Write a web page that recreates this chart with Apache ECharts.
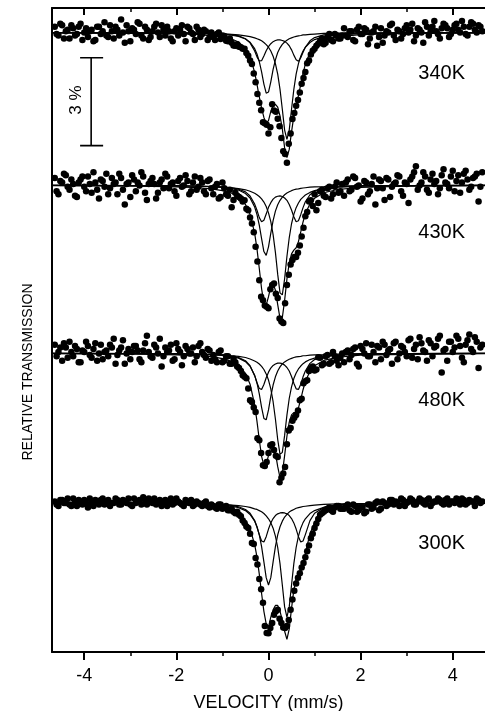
<!DOCTYPE html>
<html>
<head>
<meta charset="utf-8">
<script src="https://cdn.jsdelivr.net/npm/echarts@6/dist/echarts.min.js"></script>
<style>
  html, body { margin: 0; padding: 0; background: #fff; }
  #chart { width: 485px; height: 711px; }
</style>
</head>
<body>
<div id="chart"></div>
<script>
// velocity channels (mm/s): two interleaved sets shared by all four spectra
const VELOCITY_A = [
  -4.64, -4.56, -4.48, -4.40, -4.32, -4.24, -4.16, -4.08, -4.00, -3.92,
  -3.84, -3.76, -3.68, -3.60, -3.52, -3.44, -3.36, -3.28, -3.20, -3.12,
  -3.04, -2.96, -2.88, -2.80, -2.72, -2.64, -2.56, -2.48, -2.40, -2.32,
  -2.24, -2.16, -2.08, -2.00, -1.92, -1.84, -1.76, -1.68, -1.60, -1.52,
  -1.44, -1.36, -1.28,
  -1.20, -1.12, -1.04, -0.96, -0.88, -0.80, -0.72, -0.64, -0.56, -0.48,
  -0.40, -0.32, -0.24, -0.16, -0.08, 0.00, 0.08, 0.16, 0.24, 0.32,
  0.40, 0.48, 0.56, 0.64, 0.72, 0.80, 0.88, 0.96, 1.04, 1.12,
  1.20, 1.28, 1.36, 1.44, 1.52, 1.60,
  1.68, 1.76, 1.84, 1.92, 2.00, 2.08, 2.16, 2.24, 2.32, 2.40,
  2.48, 2.56, 2.64, 2.72, 2.80, 2.88, 2.96, 3.04, 3.12, 3.20,
  3.28, 3.36, 3.44, 3.52, 3.60, 3.68, 3.76, 3.84, 3.92, 4.00,
  4.08, 4.16, 4.24, 4.32, 4.40, 4.48, 4.56, 4.64
];
const VELOCITY_B = [
  -4.60, -4.52, -4.44, -4.36, -4.28, -4.20, -4.12, -4.04, -3.96, -3.88,
  -3.80, -3.72, -3.64, -3.56, -3.48, -3.40, -3.32, -3.24, -3.16, -3.08,
  -3.00, -2.92, -2.84, -2.76, -2.68, -2.60, -2.52, -2.44, -2.36, -2.28,
  -2.20, -2.12, -2.04, -1.96, -1.88, -1.80, -1.72, -1.64, -1.56, -1.48,
  -1.40, -1.32, -1.24,
  -1.16, -1.08, -1.00, -0.92, -0.84, -0.76, -0.68, -0.60, -0.52, -0.44,
  -0.36, -0.28, -0.20, -0.12, -0.04, 0.04, 0.12, 0.20, 0.28, 0.36,
  0.44, 0.52, 0.60, 0.68, 0.76, 0.84, 0.92, 1.00, 1.08, 1.16,
  1.24, 1.32, 1.40, 1.48, 1.56,
  1.64, 1.72, 1.80, 1.88, 1.96, 2.04, 2.12, 2.20, 2.28, 2.36,
  2.44, 2.52, 2.60, 2.68, 2.76, 2.84, 2.92, 3.00, 3.08, 3.16,
  3.24, 3.32, 3.40, 3.48, 3.56, 3.64, 3.72, 3.80, 3.88, 3.96,
  4.04, 4.12, 4.20, 4.28, 4.36, 4.44, 4.52, 4.60
];

// measured transmission, % relative to each spectrum's baseline
const POINTS_340_A = [
  0.20, -0.10, 0.25, 0.05, -0.20, 0.15, -0.05, 0.30, 0.00, -0.15,
  0.10, -0.25, 0.20, 0.05, -0.10, 0.25, -0.20, 0.10, 0.45, -0.35,
  0.05, 0.15, -0.05, 0.30, -0.20, 0.10, -0.15, 0.20, 0.00, 0.25,
  -0.10, 0.05, -0.30, 0.15, 0.10, -0.05, 0.20, 0.00, -0.25, 0.10,
  -0.05, 0.05, -0.15,
  -0.15, -0.05, -0.22, -0.12, -0.30, -0.35, -0.45, -0.48, -0.55, -0.70,
  -0.95, -1.40, -2.10, -2.65, -3.10, -3.45, -2.45, -2.70, -3.20, -4.05,
  -4.45, -3.45, -2.75, -2.30, -1.75, -1.35, -0.95, -0.62, -0.45, -0.30,
  -0.40, -0.15, -0.25, -0.05, -0.20, -0.10,
  -0.10, 0.05, -0.25, 0.10, -0.05, 0.15, -0.40, 0.00, 0.20, -0.15,
  -0.35, 0.05, 0.25, -0.10, 0.10, -0.20, 0.15, 0.00, 0.30, -0.10,
  0.10, -0.35, 0.20, 0.05, 0.40, -0.05, 0.15, 0.25, -0.15, 0.10,
  0.30, 0.00, 0.20, -0.10, 0.35, 0.10, 0.25, 0.05
];
const POINTS_340_B = [
  -0.05, 0.30, -0.20, 0.10, 0.25, -0.10, 0.20, -0.25, 0.15, 0.05,
  -0.30, 0.20, -0.05, 0.35, -0.15, 0.05, 0.20, -0.10, 0.00, 0.25,
  -0.30, 0.10, 0.35, -0.10, 0.20, -0.25, 0.05, 0.30, -0.15, 0.10,
  0.20, -0.20, 0.05, -0.10, 0.25, -0.30, 0.15, -0.05, 0.20, -0.15,
  0.10, -0.25, 0.00,
  -0.25, 0.00, -0.10, -0.28, -0.20, -0.44, -0.40, -0.50, -0.55, -0.79,
  -1.07, -1.70, -2.40, -3.06, -3.15, -3.23, -2.66, -2.94, -3.60, -4.15,
  -3.80, -2.95, -2.50, -2.05, -1.55, -1.05, -0.75, -0.55, -0.38, -0.20,
  -0.35, -0.05, -0.30, -0.10, -0.20,
  0.15, -0.15, 0.05, -0.30, 0.20, -0.05, 0.10, -0.20, 0.05, -0.45,
  0.15, -0.10, 0.00, 0.30, -0.25, 0.05, -0.05, 0.25, 0.10, -0.30,
  0.15, 0.00, 0.35, -0.10, 0.20, 0.05, -0.20, 0.30, 0.15, -0.05,
  0.25, 0.10, 0.40, -0.05, 0.20, 0.30, 0.00, 0.20
];
const POINTS_430_A = [
  0.25, -0.30, 0.10, 0.35, -0.15, 0.05, -0.40, 0.20, -0.05, 0.30,
  -0.25, 0.10, -0.45, 0.15, 0.40, -0.10, 0.05, -0.30, 0.25, -0.65,
  0.10, 0.35, -0.20, 0.00, 0.30, -0.50, 0.15, 0.05, -0.25, 0.20,
  0.40, -0.10, 0.10, -0.35, 0.25, 0.00, 0.15, -0.20, 0.30, -0.05,
  0.10, -0.30, 0.20,
  -0.30, 0.05, -0.40, -0.10, -0.35, -0.75, -0.25, -0.40, -0.55, -0.80,
  -1.10, -1.60, -2.60, -3.80, -4.10, -4.20, -3.40, -3.70, -4.55, -4.70,
  -3.40, -2.70, -2.45, -2.30, -1.75, -1.05, -0.55, -0.70, -0.85, -0.20,
  -0.35, -0.10, -0.45, -0.05, -0.25, 0.05,
  0.10, -0.20, 0.30, -0.05, -0.55, 0.15, -0.30, 0.05, -0.65, 0.20,
  -0.10, 0.25, -0.40, 0.05, 0.35, -0.20, 0.10, -0.60, 0.30, 0.65,
  0.00, 0.45, -0.15, 0.20, 0.05, -0.30, 0.35, 0.10, -0.10, 0.50,
  0.15, -0.25, 0.40, 0.20, -0.05, 0.30, -0.55, 0.45
];
const POINTS_430_B = [
  -0.20, 0.15, 0.40, -0.05, 0.20, -0.35, 0.10, 0.30, -0.20, 0.05,
  0.45, -0.15, 0.20, -0.05, -0.30, 0.25, 0.10, 0.40, -0.15, 0.05,
  -0.40, 0.20, 0.10, 0.45, -0.25, 0.05, 0.25, -0.45, 0.10, -0.10,
  0.30, 0.05, -0.20, 0.15, -0.05, 0.35, -0.30, 0.10, -0.15, 0.25,
  -0.20, 0.15, -0.10,
  -0.05, -0.45, 0.10, -0.30, -0.15, -0.50, -0.35, -0.45, -0.51, -0.85,
  -1.30, -2.10, -3.24, -3.92, -4.15, -3.55, -3.35, -3.85, -4.65, -4.03,
  -3.05, -2.55, -2.45, -2.05, -1.45, -0.91, -0.51, -0.30, -0.60, -0.15,
  -0.40, -0.05, -0.30, 0.10, -0.20,
  -0.35, 0.20, -0.15, 0.25, 0.00, -0.45, 0.10, -0.20, 0.30, -0.10,
  0.15, -0.50, 0.20, -0.05, 0.10, 0.30, -0.35, 0.05, 0.20, 0.45,
  -0.15, 0.10, 0.30, -0.25, 0.40, 0.15, -0.10, 0.55, 0.05, 0.30,
  -0.20, 0.35, 0.10, 0.50, -0.15, 0.25, 0.40, -0.05
];
const POINTS_480_A = [
  0.30, 0.05, -0.25, 0.20, 0.40, -0.10, 0.15, -0.30, 0.05, 0.25,
  -0.15, 0.35, 0.00, -0.20, 0.10, 0.30, 0.50, -0.05, 0.20, -0.35,
  0.15, 0.05, 0.25, -0.20, 0.10, 0.60, -0.10, 0.30, 0.00, -0.45,
  0.20, 0.10, -0.25, 0.35, 0.05, -0.10, 0.15, 0.00, -0.30, 0.25,
  0.05, -0.15, 0.10,
  -0.05, -0.30, 0.10, -0.25, -0.10, -0.35, -0.30, -0.50, -0.75, -0.85,
  -1.60, -1.85, -2.90, -3.40, -3.85, -3.40, -3.10, -3.50, -4.40, -4.10,
  -3.10, -2.55, -2.20, -1.95, -1.55, -0.95, -0.60, -0.45, -0.55, -0.15,
  -0.35, -0.05, -0.30, -0.10, -0.40, 0.00,
  0.05, -0.20, 0.15, -0.35, 0.25, 0.00, -0.10, 0.30, -0.30, 0.20,
  0.40, -0.05, 0.15, 0.35, -0.20, 0.25, 0.05, 0.45, -0.15, 0.30,
  0.55, 0.10, -0.25, 0.35, 0.20, 0.50, -0.65, 0.15, 0.40, 0.05,
  0.60, 0.25, -0.30, 0.45, 0.15, 0.55, -0.50, 0.30
];
const POINTS_480_B = [
  -0.10, 0.20, 0.35, -0.15, 0.05, 0.25, -0.30, 0.10, 0.40, -0.05,
  0.15, -0.25, 0.30, 0.05, -0.10, 0.20, -0.35, 0.10, 0.45, 0.00,
  -0.20, 0.25, 0.10, -0.30, 0.35, 0.05, -0.15, 0.20, 0.50, -0.10,
  0.05, 0.30, -0.20, 0.15, -0.40, 0.25, 0.00, 0.20, -0.10, 0.35,
  -0.05, 0.15, -0.25,
  -0.20, 0.05, -0.30, -0.10, -0.35, -0.17, -0.45, -0.60, -0.80, -1.20,
  -1.66, -2.00, -2.97, -3.82, -3.71, -3.14, -3.30, -3.54, -4.25, -3.88,
  -2.63, -2.30, -2.10, -1.60, -1.02, -0.92, -0.51, -0.58, -0.13, -0.40,
  -0.10, -0.35, 0.05, -0.25, -0.15,
  -0.30, 0.10, -0.05, 0.20, -0.45, 0.15, 0.35, -0.10, 0.05, 0.25,
  -0.20, 0.30, 0.10, -0.35, 0.40, 0.00, 0.20, -0.10, 0.50, 0.15,
  -0.20, 0.35, 0.05, 0.45, -0.10, 0.25, 0.60, 0.10, -0.25, 0.40,
  0.20, 0.50, -0.15, 0.30, 0.65, 0.05, 0.40, 0.20
];
const POINTS_300_A = [
  0.05, -0.10, 0.10, 0.00, -0.05, 0.15, -0.10, 0.05, 0.10, -0.15,
  0.00, 0.10, -0.05, 0.15, 0.05, -0.10, 0.00, 0.10, -0.05, 0.05,
  0.15, -0.10, 0.00, 0.10, 0.20, -0.05, 0.05, 0.15, 0.00, -0.10,
  0.10, 0.05, -0.05, 0.15, 0.00, -0.10, 0.05, 0.10, -0.05, 0.00,
  -0.10, 0.05, -0.15,
  -0.10, -0.20, -0.05, -0.15, -0.25, -0.20, -0.35, -0.40, -0.60, -0.80,
  -1.05, -1.40, -2.10, -2.95, -4.20, -4.45, -4.10, -3.70, -3.95, -4.25,
  -4.20, -3.65, -3.00, -2.55, -2.20, -1.85, -1.45, -1.05, -0.70, -0.40,
  -0.30, -0.20, -0.25, -0.15, -0.10, -0.20,
  -0.10, -0.25, -0.05, -0.30, -0.15, -0.35, -0.05, -0.20, 0.00, -0.25,
  0.05, -0.10, 0.10, -0.05, 0.00, 0.15, -0.10, 0.05, 0.10, -0.05,
  0.15, 0.00, 0.10, -0.10, 0.05, 0.15, 0.00, 0.10, -0.05, 0.05,
  0.15, -0.05, 0.10, 0.00, 0.05, -0.10, 0.10, 0.05
];
const POINTS_300_B = [
  -0.05, 0.10, 0.00, 0.15, -0.10, 0.05, 0.10, -0.05, 0.00, 0.15,
  -0.10, 0.05, 0.10, -0.05, 0.10, 0.00, 0.15, -0.05, 0.10, 0.00,
  -0.05, 0.15, 0.05, -0.05, 0.10, 0.15, 0.00, -0.05, 0.10, 0.05,
  -0.10, 0.15, 0.00, 0.05, -0.05, 0.10, 0.00, -0.10, 0.05, -0.05,
  0.00, -0.10, -0.05,
  -0.15, -0.05, -0.20, -0.10, -0.25, -0.30, -0.30, -0.45, -0.68, -0.85,
  -1.37, -1.88, -2.60, -3.41, -4.44, -4.27, -3.82, -3.65, -4.10, -4.27,
  -4.00, -3.30, -2.75, -2.40, -2.05, -1.65, -1.20, -0.85, -0.55, -0.35,
  -0.25, -0.15, -0.30, -0.10, -0.20,
  -0.20, -0.05, -0.30, -0.10, -0.25, -0.15, -0.30, -0.05, -0.15, 0.05,
  -0.20, 0.00, -0.05, 0.10, 0.05, -0.10, 0.10, 0.00, 0.15, -0.05,
  0.05, 0.10, -0.05, 0.15, 0.00, 0.05, 0.10, -0.05, 0.15, 0.05,
  0.00, 0.10, 0.15, -0.05, 0.10, 0.05, 0.15, 0.00
];

// fitted curves, sampled at FIT_V
const FIT_V = [
  -4.7, -3.0, -2.0, -1.5, -1.2, -1.0, -0.8, -0.65, -0.5, -0.4,
  -0.3, -0.25, -0.2, -0.15, -0.1, -0.05, 0, 0.05, 0.1, 0.15,
  0.2, 0.25, 0.3, 0.35, 0.4, 0.45, 0.5, 0.55, 0.6, 0.65,
  0.7, 0.75, 0.8, 0.9, 1.0, 1.2, 1.5, 2.0, 3.0, 4.7
];

const FIT_340_A = [0, -0.01, -0.01, -0.02, -0.04, -0.06, -0.09, -0.13, -0.22, -0.33, -0.55, -0.73, -0.99, -1.34, -1.76, -2.07, -2.03, -1.68, -1.26, -0.93, -0.68, -0.52, -0.40, -0.32, -0.26, -0.21, -0.18, -0.15, -0.13, -0.11, -0.10, -0.08, -0.08, -0.06, -0.05, -0.03, -0.02, -0.01, -0.01, 0];
const FIT_340_B = [0, -0.01, -0.02, -0.03, -0.04, -0.05, -0.06, -0.08, -0.11, -0.14, -0.18, -0.21, -0.24, -0.28, -0.34, -0.41, -0.50, -0.63, -0.81, -1.06, -1.42, -1.94, -2.62, -3.33, -3.65, -3.33, -2.62, -1.94, -1.42, -1.06, -0.81, -0.63, -0.50, -0.34, -0.24, -0.14, -0.08, -0.04, -0.01, 0];
const FIT_340_C = [0, -0.01, -0.01, -0.02, -0.03, -0.04, -0.07, -0.11, -0.21, -0.35, -0.63, -0.83, -0.97, -0.96, -0.80, -0.62, -0.48, -0.38, -0.31, -0.27, -0.25, -0.25, -0.27, -0.30, -0.36, -0.45, -0.59, -0.77, -0.93, -0.98, -0.86, -0.67, -0.50, -0.28, -0.17, -0.08, -0.04, -0.02, -0.01, 0];
const FIT_340_SUM = [-0.01, -0.03, -0.04, -0.07, -0.11, -0.15, -0.22, -0.32, -0.54, -0.82, -1.36, -1.77, -2.20, -2.58, -2.90, -3.10, -3.01, -2.69, -2.50, -2.45, -2.55, -2.85, -3.29, -3.94, -4.27, -3.99, -3.39, -2.86, -2.48, -2.15, -1.77, -1.39, -1.08, -0.68, -0.46, -0.26, -0.14, -0.07, -0.03, -0.01];

const FIT_430_A = [0, -0.01, -0.02, -0.03, -0.05, -0.07, -0.11, -0.16, -0.28, -0.43, -0.74, -1.00, -1.36, -1.82, -2.26, -2.39, -2.10, -1.63, -1.20, -0.88, -0.66, -0.51, -0.40, -0.32, -0.26, -0.22, -0.18, -0.15, -0.13, -0.12, -0.10, -0.09, -0.08, -0.06, -0.05, -0.04, -0.02, -0.01, -0.01, 0];
const FIT_430_B = [0, -0.01, -0.02, -0.03, -0.04, -0.06, -0.08, -0.11, -0.15, -0.20, -0.27, -0.32, -0.38, -0.46, -0.57, -0.72, -0.94, -1.24, -1.68, -2.29, -3.04, -3.67, -3.74, -3.19, -2.43, -1.79, -1.31, -0.99, -0.76, -0.60, -0.48, -0.40, -0.33, -0.24, -0.18, -0.11, -0.06, -0.03, -0.01, 0];
const FIT_430_C = [0, -0.01, -0.01, -0.02, -0.04, -0.05, -0.08, -0.13, -0.22, -0.36, -0.64, -0.85, -1.10, -1.24, -1.19, -0.98, -0.75, -0.59, -0.47, -0.40, -0.37, -0.36, -0.38, -0.43, -0.51, -0.65, -0.84, -1.07, -1.24, -1.21, -1.00, -0.76, -0.56, -0.32, -0.20, -0.10, -0.05, -0.02, -0.01, 0];
const FIT_430_SUM = [-0.01, -0.02, -0.05, -0.08, -0.13, -0.18, -0.27, -0.40, -0.65, -0.99, -1.64, -2.17, -2.84, -3.53, -4.02, -4.09, -3.80, -3.46, -3.35, -3.58, -4.07, -4.54, -4.52, -3.93, -3.20, -2.65, -2.34, -2.21, -2.13, -1.92, -1.59, -1.25, -0.97, -0.63, -0.44, -0.25, -0.14, -0.07, -0.03, -0.01];

const FIT_480_A = [0, -0.01, -0.02, -0.03, -0.05, -0.07, -0.11, -0.16, -0.28, -0.44, -0.75, -1.01, -1.38, -1.84, -2.22, -2.27, -1.93, -1.47, -1.08, -0.80, -0.60, -0.46, -0.36, -0.29, -0.24, -0.20, -0.17, -0.14, -0.12, -0.11, -0.10, -0.08, -0.08, -0.06, -0.05, -0.04, -0.02, -0.01, -0.01, 0];
const FIT_480_B = [0, -0.01, -0.02, -0.03, -0.04, -0.05, -0.08, -0.10, -0.14, -0.19, -0.26, -0.30, -0.36, -0.44, -0.55, -0.70, -0.91, -1.21, -1.65, -2.24, -2.94, -3.45, -3.38, -2.80, -2.11, -1.54, -1.14, -0.86, -0.67, -0.53, -0.43, -0.35, -0.29, -0.21, -0.16, -0.10, -0.06, -0.03, -0.01, 0];
const FIT_480_C = [0, -0.01, -0.01, -0.02, -0.04, -0.05, -0.09, -0.14, -0.25, -0.42, -0.76, -1.00, -1.20, -1.23, -1.06, -0.83, -0.64, -0.50, -0.41, -0.36, -0.33, -0.33, -0.35, -0.40, -0.48, -0.60, -0.79, -1.02, -1.21, -1.23, -1.05, -0.80, -0.60, -0.34, -0.21, -0.10, -0.05, -0.02, -0.01, 0];
const FIT_480_SUM = [-0.01, -0.02, -0.05, -0.08, -0.12, -0.18, -0.27, -0.40, -0.68, -1.05, -1.76, -2.32, -2.95, -3.52, -3.83, -3.80, -3.48, -3.18, -3.14, -3.40, -3.87, -4.24, -4.10, -3.49, -2.83, -2.35, -2.10, -2.02, -2.00, -1.86, -1.57, -1.24, -0.96, -0.61, -0.42, -0.24, -0.13, -0.06, -0.03, -0.01];

const FIT_300_A = [0, -0.01, -0.02, -0.03, -0.05, -0.07, -0.11, -0.16, -0.26, -0.39, -0.62, -0.81, -1.09, -1.49, -2.01, -2.55, -2.80, -2.55, -2.01, -1.49, -1.09, -0.81, -0.62, -0.48, -0.39, -0.31, -0.26, -0.22, -0.18, -0.16, -0.14, -0.12, -0.11, -0.09, -0.07, -0.05, -0.03, -0.02, -0.01, 0];
const FIT_300_B = [0, -0.01, -0.02, -0.03, -0.04, -0.05, -0.07, -0.09, -0.12, -0.15, -0.20, -0.22, -0.26, -0.30, -0.36, -0.44, -0.54, -0.67, -0.86, -1.13, -1.52, -2.07, -2.80, -3.55, -3.90, -3.55, -2.80, -2.07, -1.52, -1.13, -0.86, -0.67, -0.54, -0.36, -0.26, -0.15, -0.08, -0.04, -0.01, 0];
const FIT_300_C = [0, -0.01, -0.01, -0.02, -0.04, -0.05, -0.08, -0.13, -0.22, -0.35, -0.60, -0.82, -1.08, -1.30, -1.33, -1.15, -0.89, -0.68, -0.53, -0.43, -0.37, -0.34, -0.33, -0.34, -0.37, -0.43, -0.53, -0.68, -0.89, -1.15, -1.33, -1.30, -1.08, -0.60, -0.35, -0.15, -0.06, -0.03, -0.01, 0];
const FIT_300_SUM = [-0.01, -0.02, -0.05, -0.08, -0.13, -0.17, -0.26, -0.38, -0.60, -0.88, -1.42, -1.85, -2.43, -3.09, -3.70, -4.13, -4.23, -3.90, -3.65, -3.50, -3.50, -3.70, -4.00, -4.38, -4.66, -4.30, -3.60, -2.97, -2.60, -2.44, -2.33, -2.10, -1.73, -1.05, -0.67, -0.35, -0.18, -0.08, -0.03, -0.01];

const TEMPS = ['340K', '430K', '480K', '300K'];
const BASELINES = [21.16, 15.94, 10.20, 5.09];

// 3 % scale bar
const BAR_X = -3.85;
const BAR_CAP = [-4.09, -3.59];
const BAR_Y = [17.3, 20.3];

const MAJOR_TICKS = [-4, -2, 0, 2, 4];
const MINOR_TICKS = [-3, -1, 1, 3];

const FONT = 'Liberation Sans, Arial, sans-serif';

const spectra = [
  { a: POINTS_340_A, b: POINTS_340_B, fits: [FIT_340_A, FIT_340_B, FIT_340_C, FIT_340_SUM] },
  { a: POINTS_430_A, b: POINTS_430_B, fits: [FIT_430_A, FIT_430_B, FIT_430_C, FIT_430_SUM] },
  { a: POINTS_480_A, b: POINTS_480_B, fits: [FIT_480_A, FIT_480_B, FIT_480_C, FIT_480_SUM] },
  { a: POINTS_300_A, b: POINTS_300_B, fits: [FIT_300_A, FIT_300_B, FIT_300_C, FIT_300_SUM] }
];

function shift(xs, ys, base) {
  return xs.map((x, i) => [x, base + ys[i]]);
}

function blackLine(data, width) {
  return {
    type: 'line',
    data: data,
    showSymbol: false,
    symbol: 'none',
    lineStyle: { color: '#000', width: width },
    z: 3,
    silent: true
  };
}

const series = [];
spectra.forEach((s, k) => {
  series.push({
    type: 'scatter',
    data: shift(VELOCITY_A, s.a, BASELINES[k]).concat(shift(VELOCITY_B, s.b, BASELINES[k])),
    symbol: 'circle',
    symbolSize: 6.5,
    itemStyle: { color: '#000', opacity: 1 },
    z: 2,
    silent: true
  });
  s.fits.forEach(f => series.push(blackLine(shift(FIT_V, f, BASELINES[k]), 1.2)));
});

series.push(blackLine([[BAR_X, BAR_Y[0]], [BAR_X, BAR_Y[1]]], 1.6));
series.push(blackLine([[BAR_CAP[0], BAR_Y[0]], [BAR_CAP[1], BAR_Y[0]]], 1.6));
series.push(blackLine([[BAR_CAP[0], BAR_Y[1]], [BAR_CAP[1], BAR_Y[1]]], 1.6));

const tempY = [73, 232, 400, 543];

const chart = echarts.init(document.getElementById('chart'));

chart.setOption({
  animation: false,
  backgroundColor: '#fff',
  grid: { left: 52, right: 0, top: 8, bottom: 59, outerBoundsMode: 'none', containLabel: false },
  xAxis: [
    {
      type: 'value', min: -4.7, max: 4.7, position: 'bottom',
      axisLine: { onZero: false, lineStyle: { color: '#000', width: 2 } },
      axisTick: { customValues: MAJOR_TICKS, length: 8, lineStyle: { color: '#000', width: 2 } },
      axisLabel: { customValues: MAJOR_TICKS, color: '#000', fontSize: 18, fontFamily: FONT, margin: 15 },
      splitLine: { show: false },
      name: 'VELOCITY (mm/s)', nameLocation: 'middle', nameGap: 42,
      nameTextStyle: { color: '#000', fontSize: 18, fontFamily: FONT }
    },
    {
      type: 'value', min: -4.7, max: 4.7, position: 'bottom',
      axisLine: { show: false, onZero: false },
      axisTick: { customValues: MINOR_TICKS, length: 4, lineStyle: { color: '#000', width: 1.5 } },
      axisLabel: { show: false },
      splitLine: { show: false }
    },
    {
      type: 'value', min: -4.7, max: 4.7, position: 'top',
      axisLine: { onZero: false, lineStyle: { color: '#000', width: 2 } },
      axisTick: { inside: true, customValues: MAJOR_TICKS, length: 7, lineStyle: { color: '#000', width: 2 } },
      axisLabel: { show: false },
      splitLine: { show: false }
    },
    {
      type: 'value', min: -4.7, max: 4.7, position: 'top',
      axisLine: { show: false, onZero: false },
      axisTick: { inside: true, customValues: MINOR_TICKS, length: 4, lineStyle: { color: '#000', width: 1.5 } },
      axisLabel: { show: false },
      splitLine: { show: false }
    }
  ],
  yAxis: {
    type: 'value', min: 0, max: 22, position: 'left',
    axisLine: { show: true, onZero: false, lineStyle: { color: '#000', width: 2 } },
    axisTick: { show: false },
    axisLabel: { show: false },
    splitLine: { show: false }
  },
  graphic: [
    {
      type: 'text', x: 28, y: 372, rotation: Math.PI / 2,
      style: { text: 'RELATIVE TRANSMISSION', fill: '#000', font: '14px ' + FONT, textAlign: 'center', textVerticalAlign: 'middle' }
    },
    {
      type: 'text', x: 76, y: 100, rotation: Math.PI / 2,
      style: { text: '3 %', fill: '#000', font: '17px ' + FONT, textAlign: 'center', textVerticalAlign: 'middle' }
    }
  ].concat(TEMPS.map((t, k) => ({
    type: 'text', x: 465, y: tempY[k],
    style: { text: t, fill: '#000', font: '20px ' + FONT, textAlign: 'right', textVerticalAlign: 'middle' }
  }))),
  series: series
});
</script>
</body>
</html>
